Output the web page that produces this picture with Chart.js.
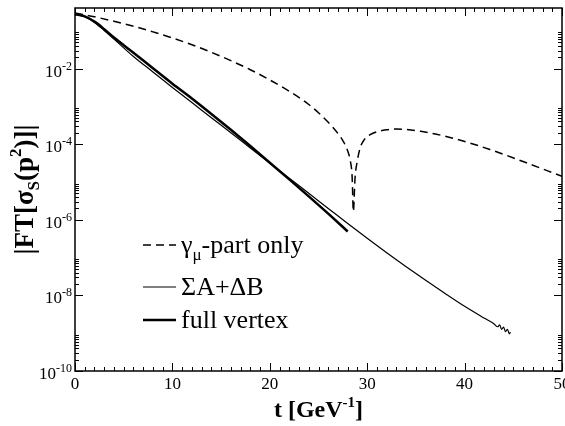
<!DOCTYPE html>
<html>
<head>
<meta charset="utf-8">
<script src="https://cdn.jsdelivr.net/npm/chart.js@4"></script>
<style>
  html, body { margin: 0; padding: 0; background: #fff; }
  canvas { display: block; }
</style>
</head>
<body>
<canvas id="plot" width="565" height="426"></canvas>
<script>
// gamma_mu part only (dashed)
const tGamma = [0, 2, 4, 6, 8, 10, 12, 14, 16, 18, 20, 22, 24, 25, 26, 27, 27.6, 28, 28.25, 28.45, 28.58, 28.75, 29, 29.3, 29.7, 30.3, 31, 32, 33, 34, 35.5, 38.5, 42.6, 46, 50];
const fGamma = [0.295, 0.234, 0.178, 0.132, 0.0933, 0.0646, 0.0427, 0.0269, 0.0162, 9.33e-3, 5.01e-3, 2.51e-3, 1.12e-3, 6.76e-4, 3.80e-4, 1.91e-4, 1.12e-4, 6.61e-5, 3.80e-5, 1.41e-5, 1.66e-6, 1.26e-5, 3.80e-5, 8.32e-5, 1.32e-4, 1.78e-4, 2.14e-4, 2.40e-4, 2.51e-4, 2.45e-4, 2.19e-4, 1.51e-4, 7.24e-5, 3.47e-5, 1.41e-5];

// Sigma A + Delta B (thin)
const tSum = [0, 1, 2, 3, 4, 6, 8, 10, 12, 14, 16, 18, 20, 22, 24, 26, 28, 30, 32, 34, 36, 38, 40, 42, 43, 43.4, 43.6, 43.8, 44.0, 44.2, 44.4, 44.6, 44.7];
const fSum = [0.275, 0.234, 0.166, 0.102, 0.0603, 0.0209, 8.13e-3, 3.16e-3, 1.26e-3, 5.01e-4, 2.00e-4, 7.94e-5, 3.16e-5, 1.26e-5, 5.01e-6, 2.00e-6, 7.94e-7, 3.24e-7, 1.35e-7, 5.75e-8, 2.51e-8, 1.12e-8, 5.13e-9, 2.51e-9, 1.78e-9, 1.48e-9, 1.66e-9, 1.26e-9, 1.45e-9, 1.10e-9, 1.26e-9, 9.55e-10, 1.07e-9];

// full vertex (thick)
const tFull = [0, 1, 2, 3, 4, 6, 8, 10, 12, 14, 16, 18, 20, 22, 24, 26, 28];
const fFull = [0.275, 0.240, 0.174, 0.110, 0.0661, 0.0263, 0.0102, 3.98e-3, 1.62e-3, 6.31e-4, 2.40e-4, 8.91e-5, 3.24e-5, 1.17e-5, 4.17e-6, 1.45e-6, 4.90e-7];

const xTicks = [0, 10, 20, 30, 40, 50];
const yExponents = [-10, -8, -6, -4, -2];

const SERIF = '"Liberation Serif", "DejaVu Serif", serif';

function pts(ts, fs) {
    return ts.map((t, i) => ({x: t, y: fs[i]}));
}

// frame, inward ticks, tick labels, axis titles and legend
const decorations = {
    id: 'decorations',
    afterDatasetsDraw(chart) {
        const ctx = chart.ctx;
        const a = chart.chartArea;
        const xs = chart.scales.x;
        const ys = chart.scales.y;
        ctx.save();
        ctx.strokeStyle = '#000';
        ctx.fillStyle = '#000';

        ctx.lineWidth = 1.5;
        ctx.strokeRect(a.left, a.top, a.right - a.left, a.bottom - a.top);

        ctx.lineWidth = 1;
        ctx.beginPath();
        for (let v = 0; v <= 50; v++) {
            const px = Math.round(xs.getPixelForValue(v)) + 0.5;
            const len = v % 10 === 0 ? 8 : 4;
            ctx.moveTo(px, a.bottom); ctx.lineTo(px, a.bottom - len);
            ctx.moveTo(px, a.top); ctx.lineTo(px, a.top + len);
        }
        for (let e = -10; e <= 0; e += 2) {
            for (let k = 1; k <= 9; k++) {
                const v = k * Math.pow(10, e);
                if (v < ys.min || v > ys.max) continue;
                const py = Math.round(ys.getPixelForValue(v)) + 0.5;
                const len = k === 1 ? 8 : 4;
                ctx.moveTo(a.left, py); ctx.lineTo(a.left + len, py);
                ctx.moveTo(a.right, py); ctx.lineTo(a.right - len, py);
            }
        }
        ctx.stroke();

        // x tick labels
        ctx.font = '17px ' + SERIF;
        ctx.textAlign = 'center';
        ctx.textBaseline = 'alphabetic';
        xTicks.forEach(v => {
            ctx.fillText(String(v), xs.getPixelForValue(v), a.bottom + 18);
        });

        // y tick labels 10^n
        yExponents.forEach(e => {
            const py = ys.getPixelForValue(Math.pow(10, e));
            const sup = String(e);
            ctx.font = '12px ' + SERIF;
            const supW = ctx.measureText(sup).width;
            ctx.textAlign = 'right';
            ctx.fillText(sup, a.left - 3, py + 1);
            ctx.font = '17px ' + SERIF;
            ctx.fillText('10', a.left - 3 - supW, py + 8);
        });

        // x title: t [GeV^-1]
        const xParts = [['t [GeV', 24, 0], ['-1', 15, -10], [']', 24, 0]];
        drawParts(ctx, xParts, true, (a.left + a.right) / 2, a.bottom + 46);

        // y title: |FT[sigma_S(p^2)]|
        ctx.save();
        ctx.translate(33, (a.top + a.bottom) / 2);
        ctx.rotate(-Math.PI / 2);
        const yParts = [['|FT[\u03C3', 27, 0], ['S', 17, 6], ['(p', 27, 0], ['2', 17, -12], [')]|', 27, 0]];
        drawParts(ctx, yParts, true, 0, 0);
        ctx.restore();

        // legend
        const rows = [
            {ds: 0, y: 245, parts: [['\u03B3', 26, 0], ['\u03BC', 17, 7], ['-part only', 26, 0]]},
            {ds: 1, y: 287, parts: [['\u03A3A+\u0394B', 26, 0]]},
            {ds: 2, y: 320, parts: [['full vertex', 26, 0]]}
        ];
        rows.forEach(r => {
            const ds = chart.data.datasets[r.ds];
            ctx.save();
            ctx.lineWidth = ds.borderWidth;
            ctx.setLineDash(ds.borderDash || []);
            ctx.beginPath();
            ctx.moveTo(143, r.y); ctx.lineTo(176, r.y);
            ctx.stroke();
            ctx.restore();
            drawParts(ctx, r.parts, false, 181, r.y + 8, true);
        });

        ctx.restore();
    }
};

// draws a run of text pieces with sub/superscripts; x is the centre, or the left edge when fromLeft
function drawParts(ctx, parts, bold, x, baseY, fromLeft) {
    const fontOf = s => (bold ? 'bold ' : '') + s + 'px ' + SERIF;
    let total = 0;
    parts.forEach(p => { ctx.font = fontOf(p[1]); total += ctx.measureText(p[0]).width; });
    let cx = fromLeft ? x : x - total / 2;
    ctx.textAlign = 'left';
    ctx.textBaseline = 'alphabetic';
    parts.forEach(p => {
        ctx.font = fontOf(p[1]);
        ctx.fillText(p[0], cx, baseY + p[2]);
        cx += ctx.measureText(p[0]).width;
    });
}

new Chart(document.getElementById('plot'), {
    type: 'line',
    data: {
        datasets: [
            {
                label: 'gamma_mu-part only',
                data: pts(tGamma, fGamma),
                borderColor: '#000',
                borderWidth: 1.5,
                borderDash: [8, 5],
                pointRadius: 0,
                cubicInterpolationMode: 'monotone'
            },
            {
                label: 'SigmaA+DeltaB',
                data: pts(tSum, fSum),
                borderColor: '#000',
                borderWidth: 1.2,
                pointRadius: 0,
                cubicInterpolationMode: 'monotone'
            },
            {
                label: 'full vertex',
                data: pts(tFull, fFull),
                borderColor: '#000',
                borderWidth: 2.5,
                pointRadius: 0,
                cubicInterpolationMode: 'monotone'
            }
        ]
    },
    options: {
        responsive: false,
        devicePixelRatio: 1,
        animation: false,
        layout: { padding: { left: 75, right: 3, top: 8, bottom: 55 } },
        plugins: { legend: { display: false }, tooltip: { enabled: false } },
        scales: {
            x: { type: 'linear', min: 0, max: 50, display: false },
            y: { type: 'logarithmic', min: 1e-10, max: 0.4, display: false }
        }
    },
    plugins: [decorations]
});
</script>
</body>
</html>
